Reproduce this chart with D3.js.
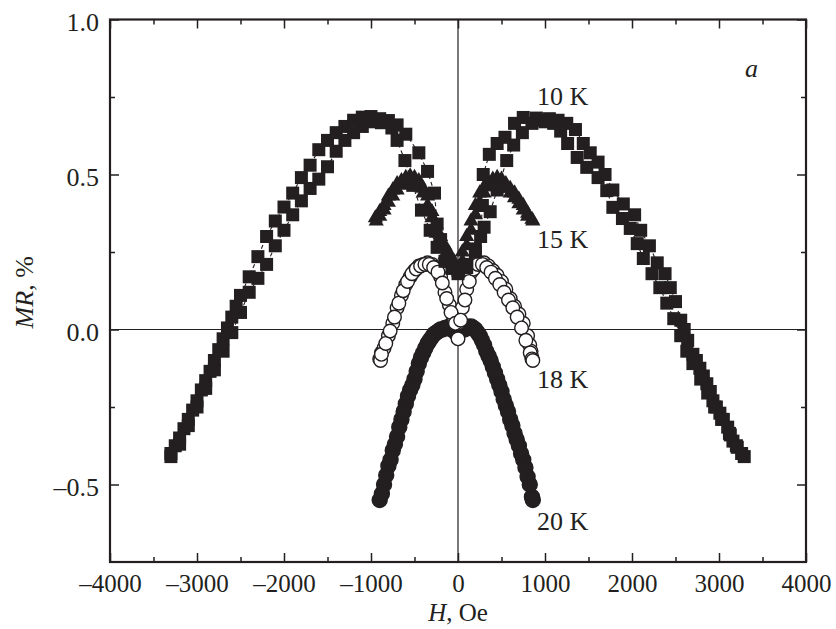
<!DOCTYPE html>
<html>
<head>
<meta charset="utf-8">
<script src="https://cdn.jsdelivr.net/npm/d3@7/dist/d3.min.js"></script>
<style>
  body { margin: 0; background: #fff; }
  svg text { font-family: "Liberation Serif", "Times New Roman", serif; fill: #231f20; }
</style>
</head>
<body>
<div id="chart"></div>
<script>
/* Data: [H (Oe), MR (%)], two sweep branches per temperature */
const k10a = [[-3300,-0.40],[-3250,-0.375],[-3200,-0.35],[-3150,-0.32],[-3100,-0.29],[-3050,-0.26],[-3000,-0.23],[-2950,-0.195],[-2900,-0.165],[-2850,-0.135],[-2800,-0.10],[-2750,-0.065],[-2700,-0.03],[-2650,0.005],[-2600,0.04],[-2550,0.075],[-2500,0.11],[-2400,0.17],[-2300,0.235],[-2200,0.30],[-2100,0.35],[-2000,0.395],[-1900,0.44],[-1800,0.49],[-1700,0.53],[-1600,0.58],[-1500,0.61],[-1400,0.635],[-1300,0.655],[-1200,0.675],[-1100,0.685],[-1000,0.687],[-900,0.68],[-800,0.674],[-700,0.66],[-600,0.63],[-450,0.57],[-350,0.51],[-270,0.44],[-240,0.34],[-200,0.29],[-100,0.22],[0,0.18],[100,0.20],[200,0.26],[300,0.33],[370,0.38],[450,0.45],[560,0.545],[640,0.595],[740,0.635],[850,0.665],[950,0.675],[1050,0.68],[1150,0.675],[1250,0.665],[1350,0.645],[1440,0.60],[1520,0.57],[1610,0.54],[1690,0.50],[1780,0.45],[1900,0.405],[2030,0.37],[2100,0.32],[2200,0.27],[2290,0.215],[2380,0.18],[2440,0.135],[2500,0.09],[2560,0.03],[2600,0.0],[2640,-0.035],[2700,-0.08],[2740,-0.10],[2780,-0.125],[2820,-0.15],[2860,-0.175],[2900,-0.20],[2930,-0.23],[2970,-0.25],[3010,-0.27],[3050,-0.29],[3100,-0.315],[3130,-0.34],[3160,-0.36],[3210,-0.38],[3260,-0.40]]
const k10b = [[-3300,-0.41],[-3200,-0.37],[-3100,-0.31],[-3000,-0.25],[-2900,-0.19],[-2800,-0.13],[-2700,-0.07],[-2600,-0.01],[-2500,0.055],[-2400,0.12],[-2300,0.165],[-2200,0.21],[-2100,0.27],[-2000,0.32],[-1900,0.37],[-1800,0.415],[-1700,0.455],[-1600,0.485],[-1500,0.525],[-1400,0.575],[-1300,0.61],[-1200,0.635],[-1100,0.655],[-1000,0.67],[-880,0.667],[-760,0.65],[-700,0.61],[-610,0.545],[-520,0.465],[-420,0.385],[-320,0.32],[-240,0.265],[-150,0.22],[-70,0.197],[0,0.19],[100,0.21],[200,0.25],[260,0.30],[280,0.40],[290,0.50],[360,0.565],[450,0.60],[540,0.62],[650,0.665],[750,0.684],[900,0.682],[1000,0.67],[1100,0.665],[1180,0.64],[1260,0.60],[1370,0.555],[1480,0.523],[1610,0.49],[1710,0.448],[1780,0.394],[1890,0.358],[1980,0.326],[2060,0.277],[2130,0.229],[2230,0.18],[2320,0.135],[2400,0.085],[2480,0.035],[2560,-0.02],[2630,-0.07],[2700,-0.11],[2790,-0.16],[2870,-0.205],[2950,-0.25],[3030,-0.29],[3120,-0.335],[3200,-0.375],[3290,-0.41]]
const k15a = [[-950,0.36],[-900,0.38],[-850,0.40],[-800,0.43],[-750,0.45],[-700,0.47],[-650,0.48],[-600,0.49],[-550,0.495],[-500,0.49],[-450,0.48],[-400,0.455],[-350,0.43],[-300,0.38],[-250,0.34],[-200,0.30],[-150,0.27],[-100,0.245],[-50,0.22],[0,0.20],[50,0.25],[100,0.30],[150,0.35],[200,0.40],[250,0.44],[300,0.46],[350,0.475],[400,0.485],[450,0.49],[500,0.485],[550,0.47],[600,0.455],[650,0.44],[700,0.42],[750,0.40],[800,0.375],[850,0.355]]
const k15b = [[-940,0.35],[-900,0.365],[-850,0.385],[-800,0.41],[-750,0.43],[-700,0.45],[-650,0.465],[-600,0.475],[-550,0.48],[-500,0.475],[-450,0.46],[-400,0.44],[-350,0.40],[-300,0.36],[-250,0.31],[-200,0.27],[-150,0.24],[-100,0.22],[-50,0.20],[0,0.19],[50,0.22],[100,0.27],[150,0.32],[200,0.37],[250,0.41],[300,0.44],[350,0.46],[400,0.47],[450,0.475],[500,0.47],[550,0.455],[600,0.44],[650,0.425],[700,0.405],[750,0.385],[800,0.365],[860,0.35]]
const k18a = [[-900,-0.095],[-880,-0.075],[-850,-0.06],[-800,-0.02],[-750,0.02],[-700,0.07],[-650,0.11],[-600,0.145],[-550,0.17],[-500,0.19],[-450,0.205],[-400,0.21],[-350,0.215],[-300,0.21],[-250,0.20],[-200,0.17],[-150,0.12],[-100,0.08],[-50,0.04],[0,0.02],[50,0.07],[100,0.13],[150,0.185],[200,0.205],[250,0.215],[300,0.215],[350,0.205],[400,0.19],[450,0.175],[500,0.155],[550,0.13],[600,0.10],[650,0.075],[700,0.05],[750,0.02],[800,-0.02],[825,-0.05],[840,-0.07],[850,-0.09]]
const k18b = [[-890,-0.10],[-880,-0.08],[-830,-0.045],[-780,-0.005],[-730,0.04],[-680,0.085],[-630,0.125],[-580,0.155],[-530,0.18],[-480,0.195],[-430,0.205],[-380,0.21],[-330,0.21],[-280,0.20],[-230,0.185],[-180,0.15],[-130,0.10],[-80,0.055],[-30,0.02],[0,-0.03],[30,0.03],[80,0.095],[130,0.155],[180,0.195],[230,0.21],[280,0.21],[330,0.20],[380,0.185],[430,0.165],[480,0.145],[530,0.12],[580,0.095],[630,0.07],[680,0.04],[730,0.005],[780,-0.035],[830,-0.075],[850,-0.095],[860,-0.10]]
const k20a = [[-900,-0.55],[-850,-0.50],[-800,-0.44],[-750,-0.39],[-700,-0.345],[-650,-0.29],[-600,-0.24],[-550,-0.195],[-500,-0.16],[-450,-0.11],[-400,-0.075],[-350,-0.045],[-300,-0.025],[-250,-0.01],[-200,0.0],[-150,0.005],[-100,0.01],[-50,0.005],[0,0.0],[50,0.005],[100,0.01],[150,0.01],[200,0.0],[250,-0.02],[300,-0.05],[350,-0.085],[400,-0.12],[450,-0.16],[500,-0.20],[550,-0.245],[600,-0.29],[650,-0.335],[700,-0.375],[750,-0.42],[800,-0.475],[850,-0.54]]
const k20b = [[-875,-0.53],[-825,-0.47],[-775,-0.42],[-725,-0.37],[-675,-0.315],[-625,-0.265],[-575,-0.215],[-525,-0.18],[-475,-0.135],[-425,-0.09],[-375,-0.06],[-325,-0.035],[-275,-0.015],[-225,-0.005],[-175,0.0],[-125,0.005],[-75,0.0],[-25,-0.01],[25,-0.005],[75,0.0],[125,0.005],[175,0.005],[225,-0.01],[275,-0.035],[325,-0.07],[375,-0.10],[425,-0.14],[475,-0.18],[525,-0.225],[575,-0.265],[625,-0.31],[675,-0.355],[725,-0.40],[775,-0.445],[825,-0.50],[860,-0.55]]

const xMajor = [-4000,-3000,-2000,-1000,0,1000,2000,3000,4000]
const xMinor = [-3500,-2500,-1500,-500,500,1500,2500,3500]
const yMajor = [-0.5,0.0,0.5,1.0]
const yMinor = [-0.25,0.25,0.75]
const curveLabels = [["10 K",105],["15 K",248],["18 K",388],["20 K",530]]

/* Chart Dimensions */
const dimensions = {width: 836, height: 629, left: 110, right: 806, top: 19.5, bottom: 562}
const ink = "#231f20"
const fontSize = 26

const svg = d3.select("#chart").append("svg")
    .attr("width", dimensions.width)
    .attr("height", dimensions.height)

/* Scales */
const xScale = d3.scaleLinear()
    .domain([-4000, 4000])
    .range([dimensions.left, dimensions.right])
const yScale = d3.scaleLinear()
    .domain([-0.75, 1.0])
    .range([dimensions.bottom, dimensions.top])

const fmtX = d => d < 0 ? "\u2013" + Math.abs(d) : String(d)
const fmtY = d => d < 0 ? "\u2013" + d3.format(".1f")(Math.abs(d)) : d3.format(".1f")(d)

/* Zero lines */
svg.append("line")
    .attr("x1", dimensions.left).attr("x2", dimensions.right)
    .attr("y1", yScale(0)).attr("y2", yScale(0))
    .attr("stroke", ink).attr("stroke-width", 1.2)
svg.append("line")
    .attr("x1", xScale(0)).attr("x2", xScale(0))
    .attr("y1", dimensions.top).attr("y2", dimensions.bottom)
    .attr("stroke", ink).attr("stroke-width", 1.2)

/* Axes */
function styleAxis(g) {
  g.select(".domain").remove()
  g.selectAll(".tick line").attr("stroke", ink).attr("stroke-width", 1.5)
  g.selectAll("text")
    .attr("font-family", '"Liberation Serif", "Times New Roman", serif')
    .attr("font-size", fontSize)
    .attr("fill", ink)
}

const plotH = dimensions.bottom - dimensions.top
const plotW = dimensions.right - dimensions.left

const xBottom = svg.append("g")
    .attr("transform", `translate(0,${dimensions.bottom})`)
    .call(d3.axisBottom(xScale).tickValues(xMajor).tickSizeInner(-9).tickSizeOuter(0).tickPadding(12).tickFormat(fmtX))
    .call(styleAxis)
xBottom.selectAll("text").attr("font-size", 25)
svg.append("g")
    .attr("transform", `translate(0,${dimensions.bottom})`)
    .call(d3.axisBottom(xScale).tickValues(xMinor).tickSizeInner(-5).tickSizeOuter(0).tickFormat(""))
    .call(styleAxis)
svg.append("g")
    .attr("transform", `translate(0,${dimensions.top})`)
    .call(d3.axisTop(xScale).tickValues(xMajor).tickSizeInner(-9).tickSizeOuter(0).tickFormat(""))
    .call(styleAxis)
svg.append("g")
    .attr("transform", `translate(0,${dimensions.top})`)
    .call(d3.axisTop(xScale).tickValues(xMinor).tickSizeInner(-5).tickSizeOuter(0).tickFormat(""))
    .call(styleAxis)

const yLeft = svg.append("g")
    .attr("transform", `translate(${dimensions.left},0)`)
    .call(d3.axisLeft(yScale).tickValues(yMajor).tickSizeInner(-9).tickSizeOuter(0).tickPadding(11).tickFormat(fmtY))
    .call(styleAxis)
yLeft.selectAll("text").attr("dy", "0.42em")
svg.append("g")
    .attr("transform", `translate(${dimensions.left},0)`)
    .call(d3.axisLeft(yScale).tickValues(yMinor).tickSizeInner(-5).tickSizeOuter(0).tickFormat(""))
    .call(styleAxis)
svg.append("g")
    .attr("transform", `translate(${dimensions.right},0)`)
    .call(d3.axisRight(yScale).tickValues(yMajor).tickSizeInner(-9).tickSizeOuter(0).tickFormat(""))
    .call(styleAxis)
svg.append("g")
    .attr("transform", `translate(${dimensions.right},0)`)
    .call(d3.axisRight(yScale).tickValues(yMinor).tickSizeInner(-5).tickSizeOuter(0).tickFormat(""))
    .call(styleAxis)

/* Frame */
svg.append("rect")
    .attr("x", dimensions.left).attr("y", dimensions.top)
    .attr("width", plotW).attr("height", plotH)
    .attr("fill", "none").attr("stroke", ink).attr("stroke-width", 2.2)

/* Draw Data */
const marks = svg.append("g")

function drawCircles(data, fill, r) {
  marks.append("g").selectAll("circle")
    .data(data)
    .enter().append("circle")
      .attr("cx", d => xScale(d[0]))
      .attr("cy", d => yScale(d[1]))
      .attr("r", r)
      .attr("fill", fill)
      .attr("stroke", ink)
      .attr("stroke-width", 1.4)
}

function drawTriangles(data) {
  const tri = d3.symbol().type(d3.symbolTriangle).size(100)
  marks.append("g").selectAll("path")
    .data(data)
    .enter().append("path")
      .attr("transform", d => `translate(${xScale(d[0])},${yScale(d[1])})`)
      .attr("d", tri)
      .attr("fill", ink)
}

function drawSquares(data) {
  const s = 13
  marks.append("g")
    .append("path")
      .datum(data)
      .attr("d", d3.line().x(d => xScale(d[0])).y(d => yScale(d[1])))
      .attr("fill", "none")
      .attr("stroke", ink)
      .attr("stroke-width", 1.1)
      .attr("stroke-dasharray", "4 3")
  marks.append("g").selectAll("rect")
    .data(data)
    .enter().append("rect")
      .attr("x", d => xScale(d[0]) - s / 2)
      .attr("y", d => yScale(d[1]) - s / 2)
      .attr("width", s)
      .attr("height", s)
      .attr("fill", ink)
}

drawCircles(k20a, ink, 7.5)
drawCircles(k20b, ink, 7.5)
drawTriangles(k15a)
drawTriangles(k15b)
drawCircles(k18a, "#fff", 6.8)
drawCircles(k18b, "#fff", 6.8)
drawSquares(k10a)
drawSquares(k10b)

/* Labels */
svg.selectAll(".curve-label")
    .data(curveLabels)
    .enter().append("text")
      .attr("class", "curve-label")
      .attr("x", 537)
      .attr("y", d => d[1])
      .attr("font-size", fontSize)
      .text(d => d[0])

svg.append("text")
    .attr("x", 745)
    .attr("y", 77)
    .attr("font-size", fontSize)
    .attr("font-style", "italic")
    .text("a")

const xLabel = svg.append("text")
    .attr("x", xScale(0))
    .attr("y", 621)
    .attr("text-anchor", "middle")
    .attr("font-size", 25)
xLabel.append("tspan").attr("font-style", "italic").text("H")
xLabel.append("tspan").text(", Oe")

const yLabel = svg.append("text")
    .attr("transform", `translate(33,${yScale(0.12)}) rotate(-90)`)
    .attr("text-anchor", "middle")
    .attr("font-size", fontSize)
yLabel.append("tspan").attr("font-style", "italic").text("MR")
yLabel.append("tspan").text(", %")
</script>
</body>
</html>
